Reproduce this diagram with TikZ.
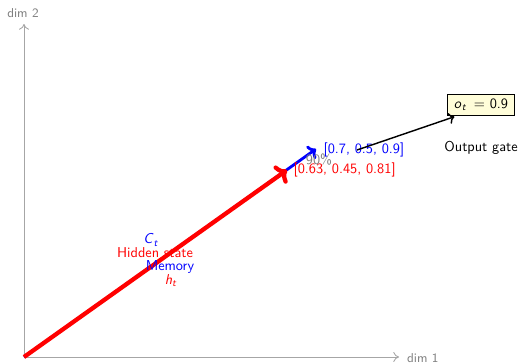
\documentclass[tikz,border=0pt]{standalone}
\usepackage{tikz}
\usetikzlibrary{arrows.meta}
\newcommand{\slvar}[2]{\textsl{#1}\textsubscript{\textsl{#2}}}
\begin{document}
\begin{tikzpicture}[x=0.7pt,y=-0.7pt,font=\sffamily,
  axis/.style={-{To[length=4pt,width=7pt]},gray!70,line width=0.6pt},
  axlabel/.style={gray,font=\sffamily\small},
  memvec/.style={-{To[length=5pt,width=11pt]},blue,line width=2pt},
  hidvec/.style={-{To[length=7pt,width=15pt]},red,line width=3pt},
  gatearrow/.style={-{To[length=4pt,width=8pt]},black,line width=1pt},
  gatebox/.style={draw=black,fill=yellow!15,inner xsep=4.5pt,inner ysep=3pt,minimum height=15pt},
  lbl/.style={inner sep=1pt}]
\useasboundingbox (0,0) rectangle (519,363);
\coordinate (O) at (24,357);
\coordinate (X) at (399,357);
\coordinate (Y) at (24,24);
\draw[axis] (O) -- (X);
\draw[axis] (O) -- (Y);
\node[axlabel,anchor=west] (d1) at (402,358) {dim 1};
\node[axlabel] (d2) at (23,13) {dim 2};
\coordinate (C) at (316,149);
\coordinate (H) at (287,170);
\draw[memvec] (O) -- (C);
\draw[hidvec] (O) -- (H);
\node[lbl,blue,anchor=west] (cv) at (322,150) {[0.7, 0.5, 0.9]};
\node[lbl,red,anchor=west] (hv) at (292,170) {[0.63, 0.45, 0.81]};
\node[lbl,gray] (pct) at (319,160) {90\%};
\node[gatebox] (og) at (481,105) {\slvar{o}{t}\ \,=\ 0.9};
\node[lbl] (ogl) at (481,148) {Output gate};
\coordinate (gs) at (357,150);
\draw[gatearrow] (gs) -- ([xshift=5pt,yshift=-0.5pt]og.south west);
\node[lbl,blue] (ct) at (151,240) {\slvar{C}{t}};
\node[lbl,red] (hs) at (155,253) {Hidden state};
\node[lbl,blue] (mem) at (170,267) {Memory};
\node[lbl,red] (ht) at (171,281) {\slvar{h}{t}};
\end{tikzpicture}
\end{document}
